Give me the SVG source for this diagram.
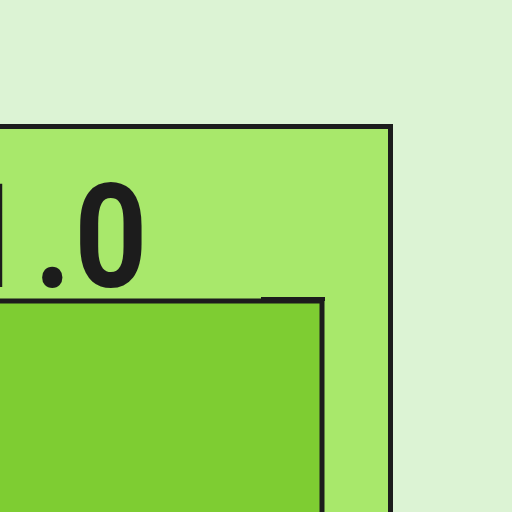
<svg xmlns="http://www.w3.org/2000/svg" width="512" height="512" viewBox="0 0 512 512">
<style>
.box{stroke:#1c1c1c;stroke-width:5}
.lbl{font-family:Roboto,"Liberation Sans",sans-serif;font-weight:700;fill:#1c1c1c}
</style>
<rect width="512" height="512" fill="#dcf3d4"/>
<g id="outer">
<rect class="box" x="-20" y="126.5" width="410.5" height="420" fill="#a8e86b"/>
<text class="lbl" transform="translate(147.5 287) scale(0.88 1)" x="0" y="0" font-size="145" text-anchor="end">1<tspan dx="10">.</tspan><tspan dx="3.5">0</tspan></text>
</g>
<g id="inner">
<rect class="box" x="-20" y="301" width="342" height="240" fill="#7ecd32"/>
<rect x="261" y="297" width="64" height="4" fill="#1c1c1c"/>
</g>
</svg>
